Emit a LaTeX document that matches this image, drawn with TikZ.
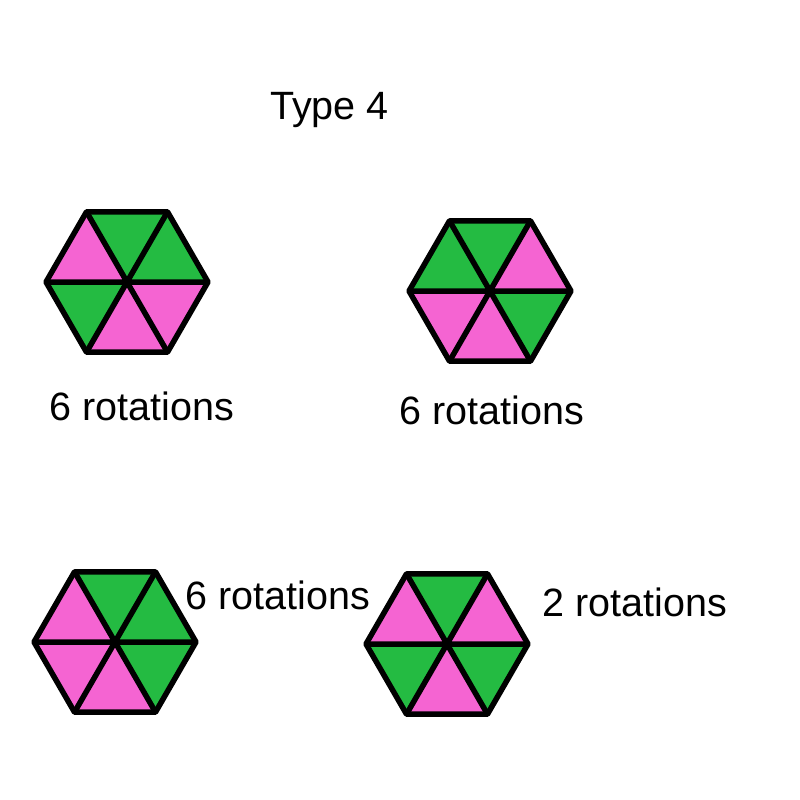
\documentclass[tikz,border=0pt]{standalone}
\usepackage{fontspec}
\setmainfont{Liberation Sans}
\definecolor{hgreen}{RGB}{36,187,66}
\definecolor{hpink}{RGB}{245,100,210}
\tikzset{
  tri/.style={line width=5.5pt, line join=round, draw=black},
  lbl/.style={inner sep=0pt, font=\fontsize{39.5}{45}\selectfont},
}
% #1 cx, #2 cy, #3..#8 colours: upper-right, top, upper-left, lower-left, bottom, lower-right
\newcommand{\hexagonpic}[8]{%
  \begin{scope}[shift={(#1,#2)}, yscale=-1]
    \fill[#3] (0,0) -- (0:81) -- (60:81) -- cycle;
    \fill[#4] (0,0) -- (60:81) -- (120:81) -- cycle;
    \fill[#5] (0,0) -- (120:81) -- (180:81) -- cycle;
    \fill[#6] (0,0) -- (180:81) -- (240:81) -- cycle;
    \fill[#7] (0,0) -- (240:81) -- (300:81) -- cycle;
    \fill[#8] (0,0) -- (300:81) -- (360:81) -- cycle;
    \draw[tri] (0:81) -- (60:81) -- (120:81) -- (180:81) -- (240:81) -- (300:81) -- cycle;
    \draw[tri] (0:81) -- (180:81) (60:81) -- (240:81) (120:81) -- (300:81);
  \end{scope}}
\begin{document}
\begin{tikzpicture}[x=1pt,y=-1pt]
\useasboundingbox (0,0) rectangle (800,800);
\fill[white] (0,0) rectangle (800,800);
\hexagonpic{127}{282}{hgreen}{hgreen}{hpink}{hgreen}{hpink}{hpink}
\hexagonpic{490}{291}{hpink}{hgreen}{hgreen}{hpink}{hpink}{hgreen}
\hexagonpic{115}{642}{hgreen}{hgreen}{hpink}{hpink}{hpink}{hgreen}
\hexagonpic{447}{644}{hpink}{hgreen}{hpink}{hgreen}{hpink}{hgreen}
\node[lbl] (title) at (329.5,110) {Type 4};
\node[lbl] (r1) at (142,406) {6 rotations};
\node[lbl] (r2) at (492,410) {6 rotations};
\node[lbl] (r3) at (278,595) {6 rotations};
\node[lbl] (r4) at (635,602) {2 rotations};
\end{tikzpicture}
\end{document}
